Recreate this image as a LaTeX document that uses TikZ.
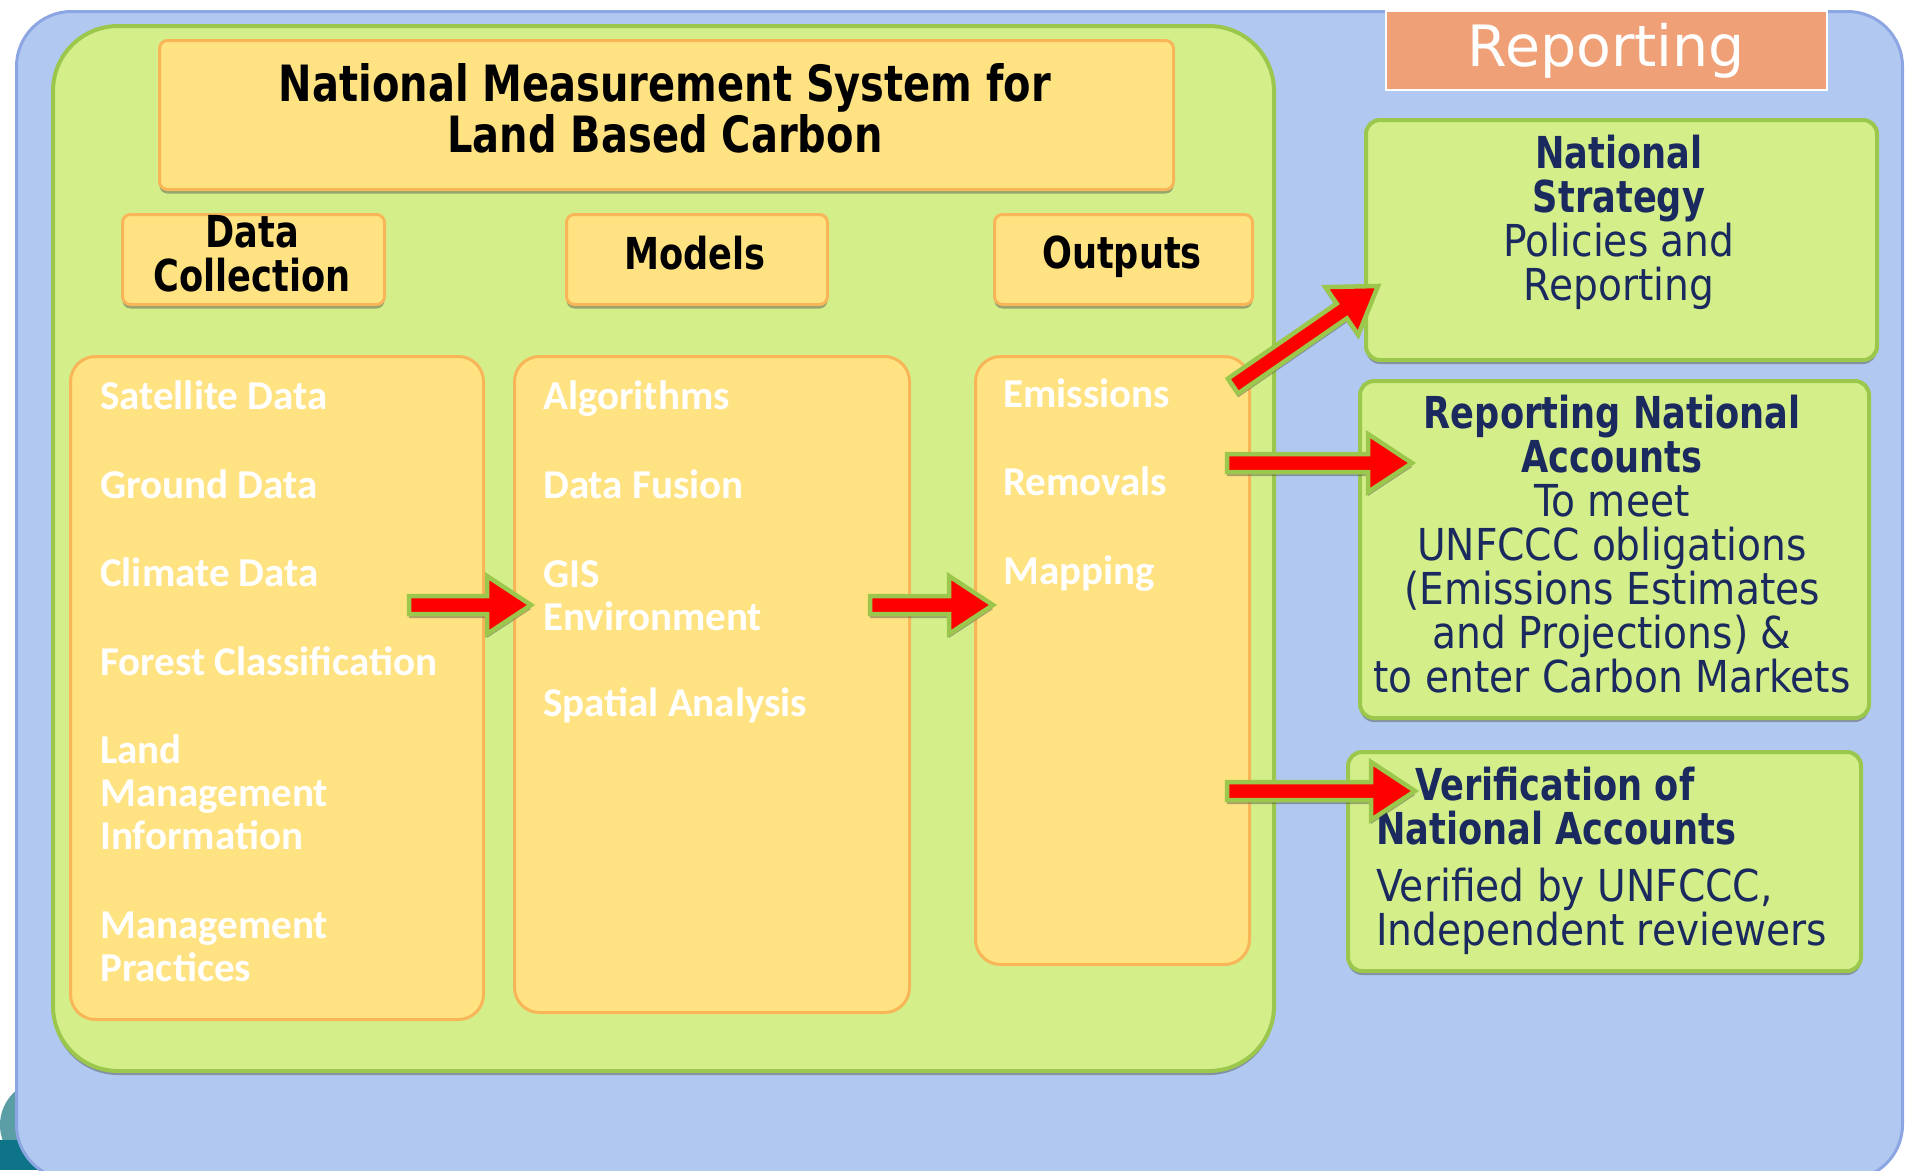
\documentclass[tikz,border=0pt]{standalone}
\usepackage{fontspec}
\usetikzlibrary{shadows,calc}
\newfontfamily\hdfont[FakeStretch=0.8]{DejaVu Sans Bold}
\newfontfamily\txtfont[FakeStretch=0.89]{DejaVu Sans}
\newfontfamily\repfont{DejaVu Sans}
\newfontfamily\itemfont{Carlito}
\definecolor{panelblue}{HTML}{B1C9F1}
\definecolor{blueline}{HTML}{8CA5E3}
\definecolor{panelgreen}{HTML}{D4EE8A}
\definecolor{greenline}{HTML}{9BC74D}
\definecolor{boxyellow}{HTML}{FFE282}
\definecolor{boxorange}{HTML}{F8B658}
\definecolor{salmon}{HTML}{F0A077}
\definecolor{navy}{HTML}{1B2A5E}
\definecolor{arrowred}{HTML}{FF0000}
\definecolor{tealdark}{HTML}{0E7487}
\definecolor{teallight}{HTML}{5B9EA6}
\tikzset{shade/.style={drop shadow={shadow xshift=0pt,shadow yshift=-4pt,opacity=.45,fill=black!70}},
 yellowbox/.style={draw=boxorange,fill=boxyellow,line width=3pt,rounded corners=8pt,shade,anchor=north west},
 column/.style={draw=boxorange,fill=boxyellow,line width=3pt,rounded corners=25pt,anchor=north west},
 greenbox/.style={draw=greenline,fill=panelgreen,line width=4pt,rounded corners=14pt,shade,anchor=north west},
 head/.style={font=\hdfont\fontsize{44}{44}\selectfont,align=center,inner sep=0pt},
 item/.style={font=\itemfont\bfseries\fontsize{41}{43}\selectfont,text=white,align=left,anchor=base west,inner sep=0pt},
 note/.style={font=\txtfont\fontsize{44}{44}\selectfont,text=navy,align=center,inner sep=0pt},
 redarrow/.style={fill=arrowred,draw=greenline,line width=4.5pt,line join=miter,shade},
}
\newcommand\blockarrow[2]{%
  \coordinate (ah) at ($(#2)!44pt!(#1)$);
  \draw[redarrow] ($(#1)!9pt!90:(#2)$) -- ($(ah)!9pt!-90:(#1)$) -- ($(ah)!29pt!-90:(#1)$) -- (#2)
    -- ($(ah)!29pt!90:(#1)$) -- ($(ah)!9pt!90:(#1)$) -- ($(#1)!9pt!-90:(#2)$) -- cycle;}

\begin{document}
\begin{tikzpicture}[x=1pt,y=-1pt]
\useasboundingbox (0,0) rectangle (1905,1170);
\fill[teallight] (45,1125) circle (45);
\fill[tealdark] (0,1140) rectangle (40,1170);
\node[draw=blueline,fill=panelblue,line width=3pt,rounded corners=55pt,anchor=north west,
  minimum width=1886pt,minimum height=1168pt] (outer) at (15,10) {};
\node[draw=greenline,fill=panelgreen,line width=4pt,rounded corners=65pt,anchor=north west,shade,
  minimum width=1221pt,minimum height=1045pt] (panel) at (51,24) {};

\node[yellowbox,minimum width=1014pt,minimum height=149pt] (title) at (158,39) {};
\node[yellowbox,minimum width=262pt,minimum height=90pt] (collect) at (121,213) {};
\node[yellowbox,minimum width=261pt,minimum height=90pt] (models) at (565,213) {};
\node[yellowbox,minimum width=258pt,minimum height=90pt] (outputs) at (993,213) {};
\node[head,font=\hdfont\fontsize{50}{51}\selectfont] (titletext) at (665,108) {National Measurement System for\\Land Based Carbon};
\node[head] (collecttext) at (252,254) {Data\\Collection};
\node[head] (modelstext) at (695,253) {Models};
\node[head] (outputstext) at (1122,257) {Outputs};

\node[column,minimum width=413pt,minimum height=663pt] (col1) at (69,355) {};
\node[column,minimum width=395pt,minimum height=656pt] (col2) at (513,355) {};
\node[column,minimum width=274pt,minimum height=608pt] (col3) at (974,355) {};

\foreach \t/\y [count=\i] in {Satellite Data/409, Ground Data/498, Climate Data/586, Forest Classification/675,
  {Land\\Management\\Information}/849, {Management\\Practices}/981}
  \node[item] (dc\i) at (100,\y) {\t};
\foreach \t/\y [count=\i] in {Algorithms/409, Data Fusion/498, {GIS\\Environment}/630, Spatial Analysis/716}
  \node[item] (md\i) at (543,\y) {\t};
\foreach \t/\y [count=\i] in {Emissions/407, Removals/495, Mapping/584}
  \node[item] (op\i) at (1003,\y) {\t};

\node[draw=white,fill=salmon,line width=2pt,anchor=north west,minimum width=441pt,minimum height=79pt,
  font=\repfont\fontsize{57}{57}\selectfont,text=white] (report) at (1385,10) {Reporting};

\node[greenbox,minimum width=511pt,minimum height=240pt] (strategy) at (1364,118) {};
\node[greenbox,minimum width=509pt,minimum height=337pt] (accounts) at (1358,379) {};
\node[greenbox,minimum width=513pt,minimum height=219pt] (verify) at (1346,750) {};

\node[note] (strategytext) at (1619,222) {{\hdfont National}\\{\hdfont Strategy}\\Policies and\\Reporting};
\node[note] (accountstext) at (1612,544) {{\hdfont Reporting National}\\{\hdfont Accounts}\\To meet\\UNFCCC obligations\\(Emissions Estimates\\and Projections) \&\\to enter Carbon Markets};
\node[note,align=left,anchor=west] (verifytext) at (1376,861)
  {\hspace*{39pt}{\hdfont Verification of}\\{\hdfont National Accounts}\\[13pt]Verified by UNFCCC,\\Independent reviewers};

\coordinate (a1) at (409,605);  \coordinate (b1) at (531,605);
\coordinate (a2) at (870,605);  \coordinate (b2) at (993,605);
\coordinate (a3) at (1233,386); \coordinate (b3) at (1378,286);
\coordinate (a4) at (1227,463); \coordinate (b4) at (1412,463);
\coordinate (a5) at (1227,791); \coordinate (b5) at (1415,791);
\foreach \i in {1,...,5} {\blockarrow{a\i}{b\i}}
\end{tikzpicture}
\end{document}
